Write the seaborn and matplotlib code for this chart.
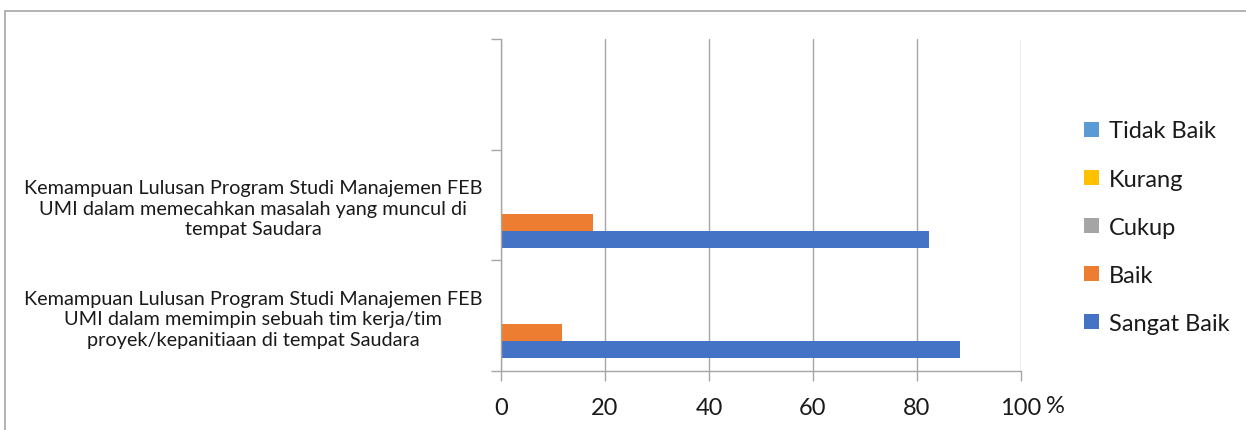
import matplotlib
matplotlib.use("Agg")
import matplotlib.pyplot as plt
from matplotlib.patches import Rectangle, Patch
import seaborn as sns
import pandas as pd
import numpy as np

# Survey categories (top slot is left blank in the chart)
categories = [
    "",
    "Kemampuan Lulusan Program Studi Manajemen FEB\nUMI dalam memecahkan masalah yang muncul di\ntempat Saudara",
    "Kemampuan Lulusan Program Studi Manajemen FEB\nUMI dalam memimpin sebuah tim kerja/tim\nproyek/kepanitiaan di tempat Saudara",
]
series = ["Tidak Baik", "Kurang", "Cukup", "Baik", "Sangat Baik"]
colors = ["#5B9BD5", "#FFC000", "#A5A5A5", "#ED7D31", "#4472C4"]

# Percentages per series, one value per category
tidak_baik = [np.nan, 0.0, 0.0]
kurang = [np.nan, 0.0, 0.0]
cukup = [np.nan, 0.0, 0.0]
baik = [np.nan, 17.6, 11.8]
sangat_baik = [np.nan, 82.4, 88.2]

x_ticks = [0, 20, 40, 60, 80, 100]
x_tick_labels = ["0", "20", "40", "60", "80", "100"]
x_unit = "%"

values = [tidak_baik, kurang, cukup, baik, sangat_baik]
rows = []
for s, vals in zip(series, values):
    for c, v in zip(categories, vals):
        rows.append({"kategori": c, "seri": s, "persen": v})
df = pd.DataFrame(rows)

sns.set_theme(style="white")
plt.rcParams["font.family"] = ["Lato", "DejaVu Sans"]

fig = plt.figure(figsize=(12.46, 4.31), dpi=100)
ax = fig.add_axes([501 / 1246, (431 - 372) / 431, 520 / 1246, 332 / 431])

sns.barplot(
    data=df, y="kategori", x="persen", hue="seri",
    order=categories, hue_order=series, palette=colors, saturation=1,
    orient="h", width=0.77, linewidth=0, errorbar=None, legend=False, ax=ax,
)

ax.set_xlim(0, 100)
ax.set_ylim(2.5, -0.5)
ax.set_xlabel("")
ax.set_ylabel("")

# value axis with vertical gridlines
tick_fs = 17
tick_pad = 12
ax.set_xticks(x_ticks)
ax.set_xticklabels(x_tick_labels, fontsize=tick_fs, color="#1a1a1a")
ax.xaxis.grid(True, color="#a6a6a6", linewidth=1)
ax.set_axisbelow(True)
ax.tick_params(axis="x", which="major", length=7, width=1, color="#a6a6a6",
               bottom=True, pad=tick_pad)
ax.annotate(x_unit, xy=(100, 0), xycoords=("data", "axes fraction"),
            xytext=(18, -(7 * 0.72 + tick_pad)), textcoords="offset points",
            ha="left", va="top", fontsize=tick_fs, color="#1a1a1a")

# category labels at slot centers, ticks at slot boundaries
ax.set_yticks(range(len(categories)))
ax.set_yticklabels(categories, fontsize=14.3, multialignment="center",
                   linespacing=1.25, color="#1a1a1a")
ax.set_yticks([-0.5, 0.5, 1.5, 2.5], minor=True)
ax.tick_params(axis="y", which="major", length=0, pad=13.5)
ax.tick_params(axis="y", which="minor", length=7, width=1, color="#a6a6a6", left=True)

for side in ["top", "right"]:
    ax.spines[side].set_visible(False)
for side in ["left", "bottom"]:
    ax.spines[side].set_color("#a6a6a6")
    ax.spines[side].set_linewidth(1)

# legend
handles = [Patch(facecolor=c, edgecolor="none") for c in colors]
leg = fig.legend(
    handles, series, loc="upper left", bbox_to_anchor=(1075 / 1246, 1 - 112 / 431),
    frameon=False, fontsize=17, handlelength=0.6, handleheight=0.6,
    handletextpad=0.45, labelspacing=1.15, borderaxespad=0,
)
for t in leg.get_texts():
    t.set_color("#1a1a1a")

# chart area border
fig.patches.append(Rectangle((4.5 / 1246, -0.5), 1.2, 1.5 - 11.5 / 431,
                             transform=fig.transFigure, fill=False,
                             edgecolor="#a6a6a6", linewidth=1.2, clip_on=False))

fig.savefig("out.png", dpi=100)
